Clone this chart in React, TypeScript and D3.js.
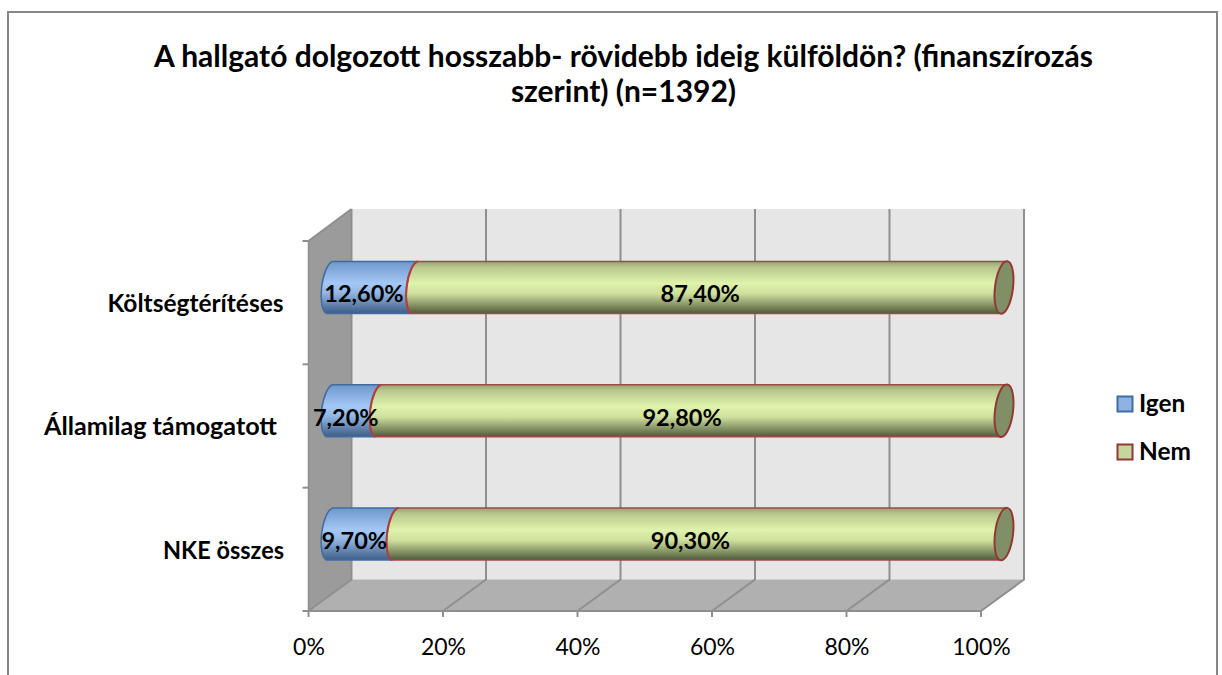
import React from "react";
import * as d3 from "d3";

const categories = ["Költségtérítéses", "Államilag támogatott", "NKE összes"];
const igenValues = [12.6, 7.2, 9.7];
const nemValues = [87.4, 92.8, 90.3];
const seriesNames = ["Igen", "Nem"];
const xTicks = [0, 20, 40, 60, 80, 100];
const titleLines = [
  "A hallgató dolgozott hosszabb- rövidebb ideig külföldön? (finanszírozás",
  "szerint) (n=1392)",
];

const FONT = "Lato, 'Open Sans', sans-serif";
const W = 1222, H = 675;
const DX = 43, DY = -31.5;
const x = d3.scaleLinear().domain([0, 100]).range([308.5, 981]);
const y = d3.scaleBand<string>().domain(categories).range([241, 611]);
const barH = 52;
const barX = (v: number) => x(v) + DX / 2 - 0.5 + (v / 100) * 2;
const rx = 9, ry = 26.4, tilt = 7;
const fmt = (v: number) => v.toFixed(2).replace(".", ",") + "%";
const pct = (v: number) => `${v}%`;

const catRight = [283.5, 277, 284];
const catWidth = [176, 233, 121];

function segmentPath(x0: number, x1: number, cy: number) {
  const t = ry * Math.sin((tilt * Math.PI) / 180);
  const top = cy - barH / 2, bot = cy + barH / 2;
  return `M${x0 + t},${top} L${x1 + t},${top} A${rx},${ry} ${tilt} 0 1 ${x1 - t},${bot} L${x0 - t},${bot} A${rx},${ry} ${tilt} 0 1 ${x0 + t},${top} Z`;
}
function leftArc(x0: number, cy: number) {
  const t = ry * Math.sin((tilt * Math.PI) / 180);
  return `M${x0 - t},${cy + barH / 2} A${rx},${ry} ${tilt} 0 1 ${x0 + t},${cy - barH / 2}`;
}

export default function App() {
  const gridTop = 209, backBottom = y.range()[1] + DY;
  const front = y.range()[1];
  const frontTop = y.range()[0];
  return (
    <svg width={W} height={H} style={{ position: "absolute", left: 0, top: 0, background: "#fff" }} fontFamily={FONT}>
      <defs>
        <linearGradient id="blue" x1="0" y1="0" x2="0" y2="1">
          <stop offset="0" stopColor="#6f97c9" />
          <stop offset="0.42" stopColor="#a3c8f8" />
          <stop offset="0.6" stopColor="#93b7e4" />
          <stop offset="1" stopColor="#3e5d86" />
        </linearGradient>
        <linearGradient id="green" x1="0" y1="0" x2="0" y2="1">
          <stop offset="0" stopColor="#96a572" />
          <stop offset="0.12" stopColor="#b9c98e" />
          <stop offset="0.42" stopColor="#dff3ac" />
          <stop offset="0.62" stopColor="#cfe09d" />
          <stop offset="1" stopColor="#4f5b3c" />
        </linearGradient>
      </defs>

      <path d={`M8,${H} V12 H1217 V${H}`} fill="none" stroke="#868686" strokeWidth={2} />

      {titleLines.map((t, i) => (
        <text key={t} x={623.5} y={66.5 + i * 35} textAnchor="middle" fontSize={30} fontWeight={700} fill="#000">{t}</text>
      ))}

      <rect x={x(0) + DX} y={gridTop} width={x(100) - x(0) + 0.5} height={backBottom - gridTop} fill="#e6e6e6" />
      <path d={`M${x(0)},${frontTop} L${x(0) + DX},${gridTop} V${backBottom} L${x(0)},${front} Z`} fill="#9b9b9b" />
      <path d={`M${x(0)},${front} L${x(0) + DX},${backBottom} H${x(100) + DX} L${x(100)},${front} Z`} fill="#b0b0b0" />
      <path d={`M${x(0)},${frontTop} L${x(0) + DX},${gridTop}`} stroke="#8f8f8f" strokeWidth={2} fill="none" />

      {xTicks.map((t) => (
        <g key={t}>
          <path d={`M${x(t)},${front} L${x(t) + DX},${backBottom} V${gridTop}`} fill="none" stroke="#8f8f8f" strokeWidth={2} />
          <line x1={x(t)} x2={x(t)} y1={front} y2={front + 6} stroke="#8f8f8f" strokeWidth={2} />
          <text x={x(t) + 0.5} y={655} textAnchor="middle" fontSize={23} fill="#000">{pct(t)}</text>
        </g>
      ))}
      <line x1={x(0) - 6} x2={x(100)} y1={front} y2={front} stroke="#8f8f8f" strokeWidth={2} />
      <line x1={x(0)} x2={x(0)} y1={frontTop} y2={front} stroke="#8f8f8f" strokeWidth={1.5} />
      {categories.map((c) => (
        <line key={c} x1={x(0) - 6} x2={x(0)} y1={y(c)!} y2={y(c)!} stroke="#8f8f8f" strokeWidth={2} />
      ))}

      {categories.map((c, i) => {
        const cy = y(c)! + y.bandwidth() / 2 + DY / 2 + 0.5;
        const split = igenValues[i];
        const baseline = cy + 15;
        return (
          <g key={c}>
            <path d={segmentPath(barX(0), barX(split), cy)} fill="url(#blue)" stroke="#3f6ca3" strokeWidth={1.5} />
            <path d={segmentPath(barX(split), barX(100), cy)} fill="url(#green)" stroke="#a04a48" strokeWidth={1.5} />
            <path d={leftArc(barX(split), cy)} fill="none" stroke="#b0403c" strokeWidth={2} />
            <ellipse cx={barX(100)} cy={cy} rx={rx} ry={ry} fill="#7f8f66" stroke="#953735" strokeWidth={2}
              transform={`rotate(${tilt} ${barX(100)} ${cy})`} />
            <text x={barX(split / 2) - 8} y={baseline} textAnchor="middle" fontSize={23.5} fontWeight={700} fill="#000">{fmt(igenValues[i])}</text>
            <text x={barX(split + nemValues[i] / 2) - 9} y={baseline} textAnchor="middle" fontSize={23.5} fontWeight={700} fill="#000">{fmt(nemValues[i])}</text>
            <text x={catRight[i] - catWidth[i]} y={cy + 24.5} textLength={catWidth[i]} lengthAdjust="spacingAndGlyphs" fontSize={25} fontWeight={700} fill="#000">{c}</text>
          </g>
        );
      })}

      {seriesNames.map((s, i) => (
        <g key={s}>
          <rect x={1117.5} y={396.5 + i * 48} width={15} height={15} fill={i === 0 ? "#8db3e2" : "#c3d69b"} stroke={i === 0 ? "#3f6ca3" : "#953735"} strokeWidth={2} />
          <text x={1139} y={412 + i * 48} fontSize={24.4} fontWeight={700} fill="#000">{s}</text>
        </g>
      ))}
    </svg>
  );
}
